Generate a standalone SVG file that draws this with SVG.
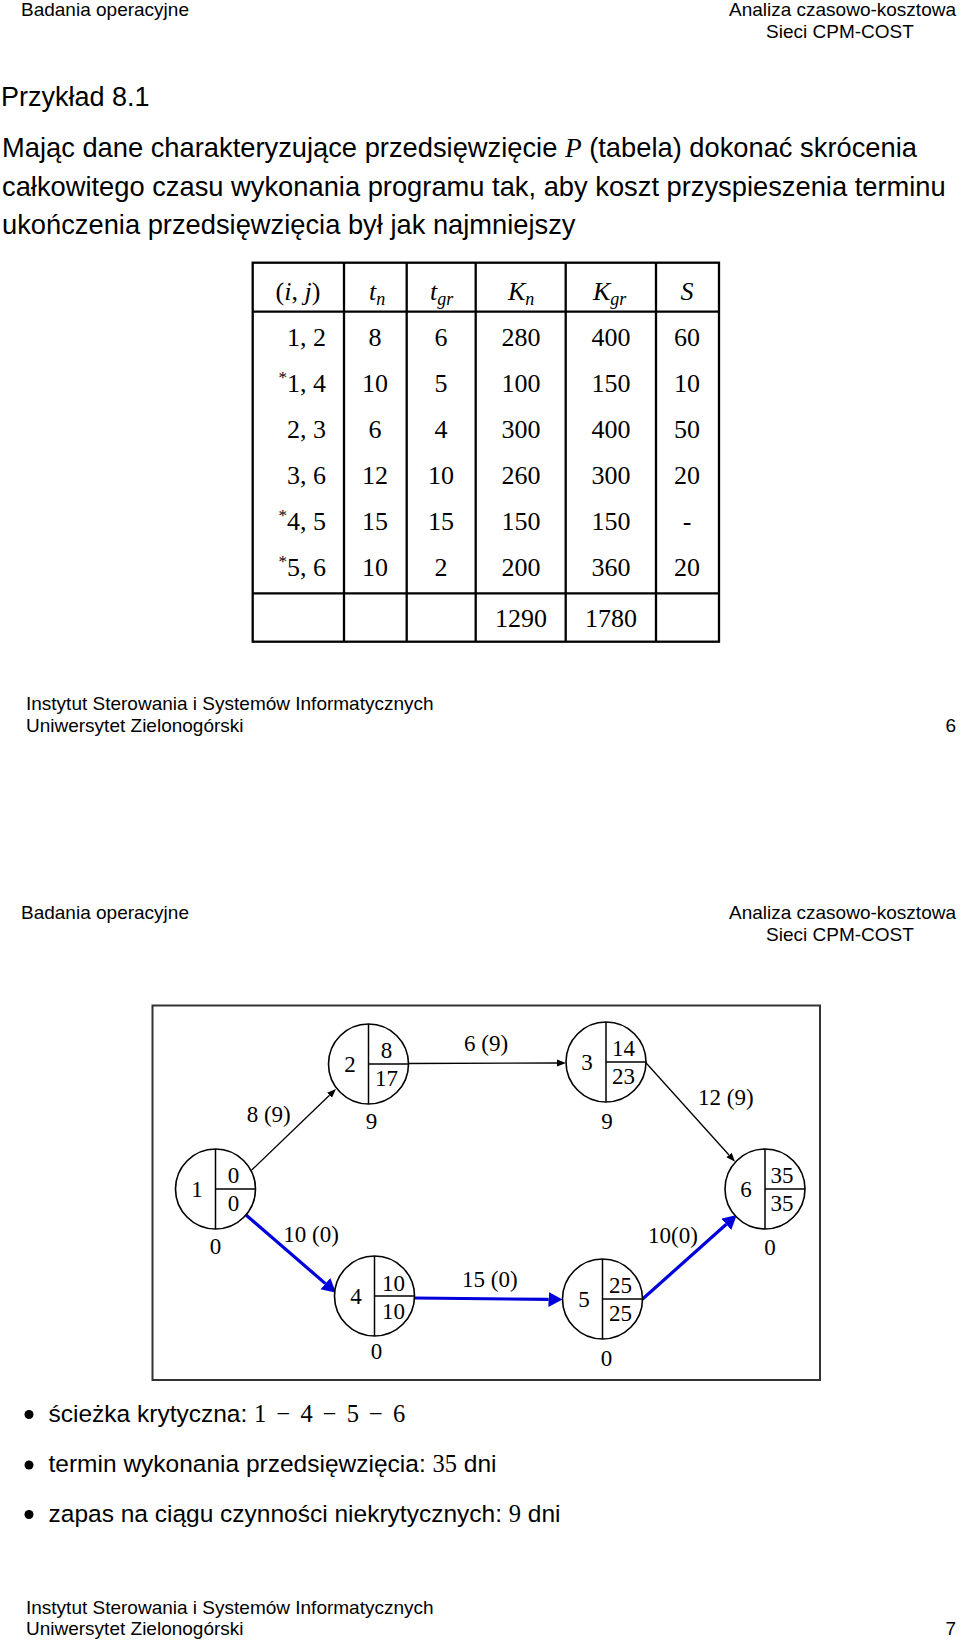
<svg xmlns="http://www.w3.org/2000/svg" width="960" height="1644" viewBox="0 0 960 1644">
<style>
text{fill:#000}
.sans{font-family:"Liberation Sans",Arial,Helvetica,sans-serif}
.hdr{font-size:19px}
.body{font-size:27.3px}
.bul{font-size:24.5px}
.ser{font-family:"Liberation Serif","Times New Roman",serif}
.it{font-style:italic}
.tb{font-size:26px}
.nt{font-family:"Liberation Serif","Times New Roman",serif;font-size:23px}
.mid{text-anchor:middle}
.end{text-anchor:end}
.grid line,.grid rect{stroke:#000;stroke-width:2.3;fill:none}
.nc{fill:#fff;stroke:#000;stroke-width:1.6}
.dv{stroke:#000;stroke-width:1.5}
.eb{stroke:#000;stroke-width:1.3;fill:none}
.eq{stroke:#0000dc;stroke-width:3.2;fill:none}
</style>
<defs>
<marker id="ab" markerUnits="userSpaceOnUse" markerWidth="10" markerHeight="8" refX="0" refY="3.5" orient="auto"><path d="M0,0 L9,3.5 L0,7 z" fill="#000"/></marker>
<marker id="aq" markerUnits="userSpaceOnUse" markerWidth="15" markerHeight="16" refX="0" refY="7.5" orient="auto"><path d="M0,0 L14,7.5 L0,15 z" fill="#0000dc"/></marker>
</defs>
<rect width="960" height="1644" fill="#fff"/>

<!-- Page 1 -->
<g id="page1-header" class="sans hdr">
<text x="21" y="15.5">Badania operacyjne</text>
<text x="956" y="15.5" class="end">Analiza czasowo-kosztowa</text>
<text x="840" y="37.5" class="mid">Sieci CPM-COST</text>
</g>
<g id="intro" class="sans">
<text x="1" y="106" font-size="27">Przykład 8.1</text>
<text x="2" y="157" class="body">Mając dane charakteryzujące przedsięwzięcie <tspan class="ser it">P</tspan> (tabela) dokonać skrócenia</text>
<text x="2" y="196" class="body">całkowitego czasu wykonania programu tak, aby koszt przyspieszenia terminu</text>
<text x="2" y="234" class="body">ukończenia przedsięwzięcia był jak najmniejszy</text>
</g>

<g id="table">
<g class="grid">
<rect x="252.7" y="262.7" width="466.3" height="379"/>
<line x1="344" y1="262.7" x2="344" y2="641.7"/>
<line x1="406.7" y1="262.7" x2="406.7" y2="641.7"/>
<line x1="475.7" y1="262.7" x2="475.7" y2="641.7"/>
<line x1="565.7" y1="262.7" x2="565.7" y2="641.7"/>
<line x1="656" y1="262.7" x2="656" y2="641.7"/>
<line x1="252.7" y1="311.7" x2="719" y2="311.7"/>
<line x1="252.7" y1="593.3" x2="719" y2="593.3"/>
</g>
<g class="ser tb">
<text x="298" y="300" class="mid">(<tspan class="it">i</tspan>, <tspan class="it">j</tspan>)</text>
<text x="369" y="300" class="it">t<tspan font-size="18" dy="5">n</tspan></text>
<text x="430" y="300" class="it">t<tspan font-size="18" dy="5">gr</tspan></text>
<text x="508" y="300" class="it">K<tspan font-size="18" dy="5">n</tspan></text>
<text x="593" y="300" class="it">K<tspan font-size="18" dy="5">gr</tspan></text>
<text x="687" y="300" class="mid it">S</text>

<text x="326" y="346" class="end">1, 2</text>
<text x="326" y="391.7" class="end"><tspan font-size="17" dy="-9">*</tspan><tspan dy="9">1, 4</tspan></text>
<text x="326" y="437.7" class="end">2, 3</text>
<text x="326" y="484" class="end">3, 6</text>
<text x="326" y="530" class="end"><tspan font-size="17" dy="-9">*</tspan><tspan dy="9">4, 5</tspan></text>
<text x="326" y="576" class="end"><tspan font-size="17" dy="-9">*</tspan><tspan dy="9">5, 6</tspan></text>

<g class="mid">
<text x="375" y="346">8</text><text x="441" y="346">6</text><text x="521" y="346">280</text><text x="611" y="346">400</text><text x="687" y="346">60</text>
<text x="375" y="391.7">10</text><text x="441" y="391.7">5</text><text x="521" y="391.7">100</text><text x="611" y="391.7">150</text><text x="687" y="391.7">10</text>
<text x="375" y="437.7">6</text><text x="441" y="437.7">4</text><text x="521" y="437.7">300</text><text x="611" y="437.7">400</text><text x="687" y="437.7">50</text>
<text x="375" y="484">12</text><text x="441" y="484">10</text><text x="521" y="484">260</text><text x="611" y="484">300</text><text x="687" y="484">20</text>
<text x="375" y="530">15</text><text x="441" y="530">15</text><text x="521" y="530">150</text><text x="611" y="530">150</text><text x="687" y="530">-</text>
<text x="375" y="576">10</text><text x="441" y="576">2</text><text x="521" y="576">200</text><text x="611" y="576">360</text><text x="687" y="576">20</text>
<text x="521" y="626.7">1290</text><text x="611" y="626.7">1780</text>
</g>
</g>
</g>

<g id="page1-footer" class="sans hdr">
<text x="26" y="710">Instytut Sterowania i Systemów Informatycznych</text>
<text x="26" y="732">Uniwersytet Zielonogórski</text>
<text x="956" y="732" class="end">6</text>
</g>

<!-- Page 2 -->
<g id="page2-header" class="sans hdr">
<text x="21" y="919">Badania operacyjne</text>
<text x="956" y="919" class="end">Analiza czasowo-kosztowa</text>
<text x="840" y="941" class="mid">Sieci CPM-COST</text>
</g>

<rect id="frame" x="152.5" y="1005.5" width="667.5" height="374.5" fill="none" stroke="#333" stroke-width="2"/>

<g id="connectors">
<line class="eb" x1="251.7" y1="1170" x2="329.5" y2="1095.2" marker-end="url(#ab)"/>
<line class="eb" x1="408.5" y1="1063.5" x2="557" y2="1063" marker-end="url(#ab)"/>
<line class="eb" x1="645.7" y1="1062.5" x2="729" y2="1155" marker-end="url(#ab)"/>
<line class="eq" x1="246" y1="1215" x2="325.4" y2="1283.6" marker-end="url(#aq)"/>
<line class="eq" x1="414.5" y1="1298" x2="548.5" y2="1299.4" marker-end="url(#aq)"/>
<line class="eq" x1="642.3" y1="1299.3" x2="726.3" y2="1224.3" marker-end="url(#aq)"/>
<g class="nt">
<text x="246.7" y="1121.7">8 (9)</text>
<text x="464" y="1051">6 (9)</text>
<text x="698" y="1105">12 (9)</text>
<text x="283.3" y="1241.7">10 (0)</text>
<text x="462" y="1286.7">15 (0)</text>
<text x="648" y="1242.7">10(0)</text>
</g>
</g>

<g id="node1" transform="translate(215.5,1189)" class="nt">
<circle r="40" class="nc"/><line class="dv" x1="0" y1="-40" x2="0" y2="40"/><line class="dv" x1="0" y1="0" x2="40" y2="0"/>
<text x="-18.5" y="7.5" class="mid">1</text><text x="18" y="-6" class="mid">0</text><text x="18" y="22" class="mid">0</text><text x="0" y="65" class="mid">0</text>
</g>
<g id="node2" transform="translate(368.5,1064)" class="nt">
<circle r="40" class="nc"/><line class="dv" x1="0" y1="-40" x2="0" y2="40"/><line class="dv" x1="0" y1="0" x2="40" y2="0"/>
<text x="-18.5" y="7.5" class="mid">2</text><text x="18" y="-6" class="mid">8</text><text x="18" y="22" class="mid">17</text><text x="3" y="65" class="mid">9</text>
</g>
<g id="node3" transform="translate(606,1062)" class="nt">
<circle r="40" class="nc"/><line class="dv" x1="0" y1="-40" x2="0" y2="40"/><line class="dv" x1="0" y1="0" x2="40" y2="0"/>
<text x="-19" y="7.5" class="mid">3</text><text x="17.5" y="-6" class="mid">14</text><text x="17.5" y="22" class="mid">23</text><text x="1" y="67" class="mid">9</text>
</g>
<g id="node4" transform="translate(374.5,1296)" class="nt">
<circle r="40" class="nc"/><line class="dv" x1="0" y1="-40" x2="0" y2="40"/><line class="dv" x1="0" y1="0" x2="40" y2="0"/>
<text x="-18.5" y="7.5" class="mid">4</text><text x="19" y="-5" class="mid">10</text><text x="19" y="23" class="mid">10</text><text x="2" y="63" class="mid">0</text>
</g>
<g id="node5" transform="translate(602.5,1299)" class="nt">
<circle r="40" class="nc"/><line class="dv" x1="0" y1="-40" x2="0" y2="40"/><line class="dv" x1="0" y1="0" x2="40" y2="0"/>
<text x="-18.5" y="7.5" class="mid">5</text><text x="18" y="-6" class="mid">25</text><text x="18" y="22" class="mid">25</text><text x="4" y="67" class="mid">0</text>
</g>
<g id="node6" transform="translate(765,1189)" class="nt">
<circle r="40" class="nc"/><line class="dv" x1="0" y1="-40" x2="0" y2="40"/><line class="dv" x1="0" y1="0" x2="40" y2="0"/>
<text x="-19" y="7.5" class="mid">6</text><text x="17" y="-6" class="mid">35</text><text x="17" y="22" class="mid">35</text><text x="5" y="66" class="mid">0</text>
</g>

<g id="bullets" class="sans bul">
<circle cx="29" cy="1414.5" r="4.5" fill="#000"/>
<text x="48.5" y="1421.5">ścieżka krytyczna: <tspan class="ser" word-spacing="4">1 − 4 − 5 − 6</tspan></text>
<circle cx="29" cy="1465" r="4.5" fill="#000"/>
<text x="48.5" y="1472">termin wykonania przedsięwzięcia: <tspan class="ser">35</tspan> dni</text>
<circle cx="29" cy="1514.5" r="4.5" fill="#000"/>
<text x="48.5" y="1521.5">zapas na ciągu czynności niekrytycznych: <tspan class="ser">9</tspan> dni</text>
</g>

<g id="page2-footer" class="sans hdr">
<text x="26" y="1613.5">Instytut Sterowania i Systemów Informatycznych</text>
<text x="26" y="1635">Uniwersytet Zielonogórski</text>
<text x="956" y="1635" class="end">7</text>
</g>
</svg>
